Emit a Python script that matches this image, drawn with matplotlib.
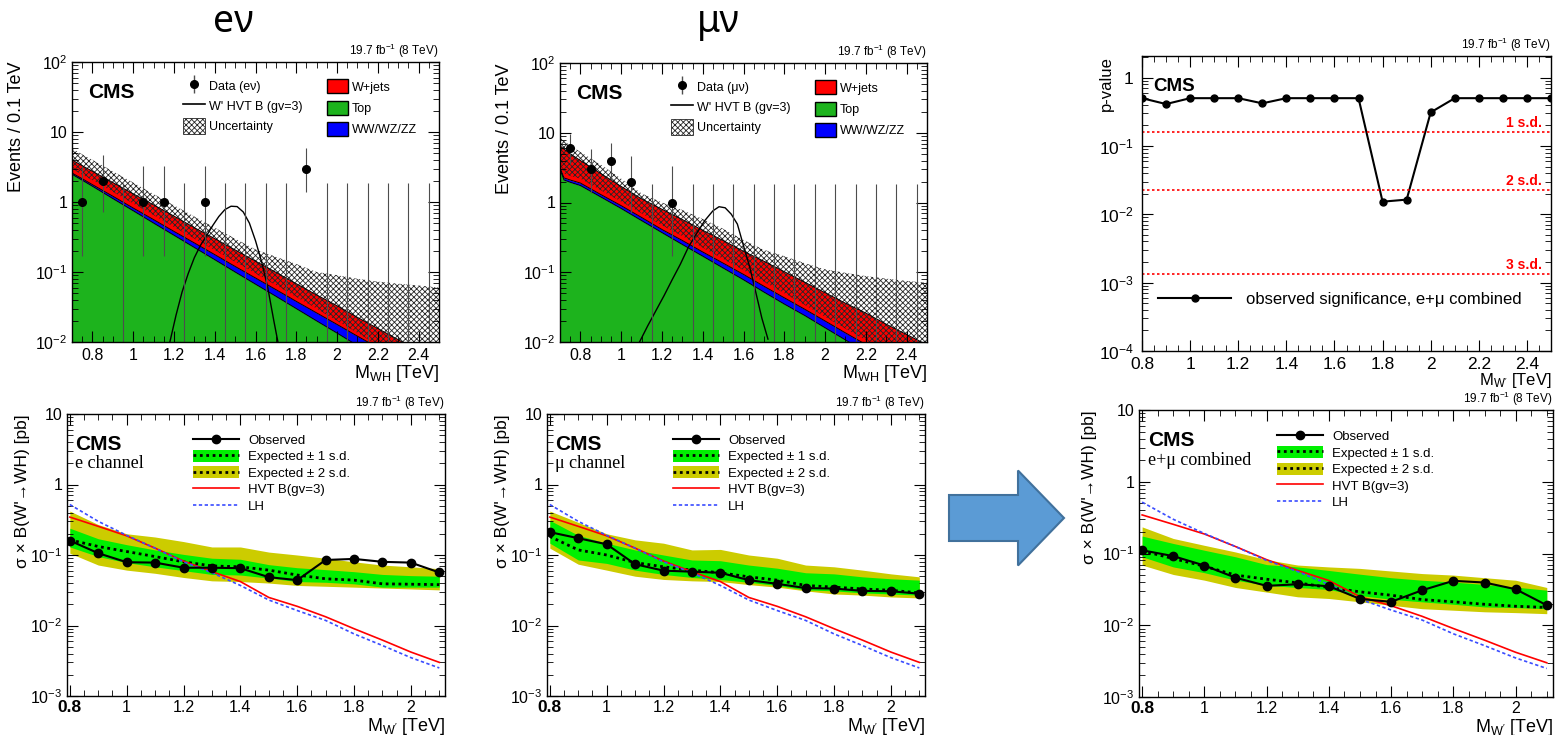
import numpy as np
import matplotlib
matplotlib.use("Agg")
import matplotlib.pyplot as plt
from matplotlib.patches import Patch, FancyArrow
from matplotlib.lines import Line2D
from matplotlib.ticker import FuncFormatter, LogLocator, MultipleLocator, NullFormatter

plt.rcParams["font.family"] = ["Liberation Sans", "DejaVu Sans"]
plt.rcParams["mathtext.fontset"] = "custom"
plt.rcParams["mathtext.rm"] = "Liberation Sans"
plt.rcParams["mathtext.it"] = "Liberation Sans:italic"
plt.rcParams["mathtext.bf"] = "Liberation Sans:bold"
plt.rcParams["hatch.linewidth"] = 0.6

# ── data: M_WH spectra (top row) ─────────────────────────────
mass_centers = [0.75, 0.85, 0.95, 1.05, 1.15, 1.25, 1.35, 1.45, 1.55,
                1.65, 1.75, 1.85, 1.95, 2.05, 2.15, 2.25, 2.35, 2.45]

e_counts = [1, 2, 0, 1, 1, 0, 1, 0, 0, 0, 0, 3, 0, 0, 0, 0, 0, 0]
e_err_lo = [0.17, 0.71, 0, 0.17, 0.17, 0, 0.17, 0, 0, 0, 0, 1.37, 0, 0, 0, 0, 0, 0]
e_err_hi = [3.30, 4.64, 1.84, 3.30, 3.30, 1.84, 3.30, 1.84, 1.84,
            1.84, 1.84, 5.92, 1.84, 1.84, 1.84, 1.84, 1.84, 1.84]

mu_counts = [6, 3, 4, 2, 0, 1, 0, 0, 0, 0, 0, 0, 0, 0, 0, 0, 0, 0]
mu_err_lo = [3.62, 1.37, 2.09, 0.71, 0, 0.17, 0, 0, 0, 0, 0, 0, 0, 0, 0, 0, 0, 0]
mu_err_hi = [9.58, 5.92, 7.16, 4.64, 1.84, 3.30, 1.84, 1.84, 1.84,
             1.84, 1.84, 1.84, 1.84, 1.84, 1.84, 1.84, 1.84, 1.84]

bkg_x = [0.70, 0.72, 0.75, 0.80, 0.90, 1.00, 1.10, 1.20, 1.30, 1.40, 1.50,
         1.60, 1.70, 1.80, 1.90, 2.00, 2.10, 2.20, 2.30, 2.40, 2.50]

# stacked tops: Top, Top+VV, Top+VV+W+jets, and uncertainty band edges
e_top_sum = [2.5, 2.3, 2.05, 1.68, 1.12, 0.75, 0.50, 0.335, 0.224, 0.15, 0.10,
             0.067, 0.045, 0.030, 0.020, 0.0134, 0.0089, 0.006, 0.004, 0.0027, 0.0018]
e_vv_sum = [2.6, 2.4, 2.15, 1.77, 1.21, 0.82, 0.56, 0.38, 0.26, 0.177, 0.12,
            0.082, 0.056, 0.038, 0.026, 0.0178, 0.0121, 0.0083, 0.0057, 0.0039, 0.0026]
e_wjets_sum = [4.0, 3.7, 3.3, 2.75, 1.90, 1.31, 0.91, 0.63, 0.43, 0.30, 0.207,
               0.143, 0.099, 0.068, 0.047, 0.033, 0.0225, 0.0156, 0.0108, 0.0074, 0.0051]
e_unc_hi = [5.8, 5.4, 4.8, 4.0, 2.75, 1.9, 1.3, 0.9, 0.62, 0.43, 0.30,
            0.21, 0.165, 0.13, 0.10, 0.09, 0.08, 0.073, 0.068, 0.064, 0.06]
e_unc_lo = [3.0, 2.75, 2.45, 2.05, 1.4, 0.95, 0.65, 0.44, 0.30, 0.205, 0.14,
            0.095, 0.065, 0.044, 0.03, 0.02, 0.0135, 0.009, 0.006, 0.004, 0.0027]

mu_top_sum = [3.0, 2.1, 1.95, 1.75, 1.2, 0.82, 0.55, 0.37, 0.25, 0.17, 0.115,
              0.078, 0.052, 0.035, 0.024, 0.016, 0.0107, 0.0072, 0.0049, 0.0033, 0.0022]
mu_vv_sum = [3.15, 2.25, 2.1, 1.9, 1.3, 0.9, 0.61, 0.41, 0.285, 0.195, 0.135,
             0.093, 0.063, 0.043, 0.0295, 0.02, 0.0135, 0.0092, 0.0063, 0.0043, 0.0029]
mu_wjets_sum = [6.5, 5.8, 5.0, 4.0, 2.6, 1.7, 1.13, 0.80, 0.57, 0.40, 0.285,
                0.20, 0.144, 0.102, 0.072, 0.051, 0.036, 0.026, 0.018, 0.0128, 0.0091]
mu_unc_hi = [8.5, 7.6, 6.6, 5.3, 3.5, 2.2, 1.35, 1.0, 0.78, 0.58, 0.42,
             0.29, 0.21, 0.17, 0.135, 0.11, 0.098, 0.088, 0.081, 0.075, 0.071]
mu_unc_lo = [3.6, 2.6, 2.4, 2.2, 1.5, 1.03, 0.7, 0.47, 0.33, 0.225, 0.155,
             0.107, 0.073, 0.05, 0.034, 0.023, 0.0155, 0.0106, 0.0072, 0.005, 0.0033]

# W' HVT B (gv=3) signal shape
e_sig_x = [1.18, 1.21, 1.24, 1.27, 1.30, 1.33, 1.36, 1.39, 1.42, 1.45,
           1.48, 1.51, 1.54, 1.57, 1.60, 1.63, 1.66, 1.69, 1.71]
e_sig_y = [0.010, 0.024, 0.052, 0.095, 0.16, 0.24, 0.33, 0.46, 0.62, 0.78,
           0.87, 0.86, 0.72, 0.50, 0.28, 0.14, 0.06, 0.02, 0.01]
mu_sig_x = [1.09, 1.13, 1.17, 1.21, 1.25, 1.29, 1.33, 1.37, 1.41, 1.45,
            1.48, 1.51, 1.54, 1.57, 1.60, 1.63, 1.66, 1.69, 1.72]
mu_sig_y = [0.010, 0.017, 0.028, 0.046, 0.078, 0.13, 0.23, 0.36, 0.55, 0.76,
            0.87, 0.84, 0.68, 0.49, 0.24, 0.12, 0.052, 0.022, 0.011]

# ── data: p-value (top right) ────────────────────────────────
p_mass = [0.8, 0.9, 1.0, 1.1, 1.2, 1.3, 1.4, 1.5, 1.6,
          1.7, 1.8, 1.9, 2.0, 2.1, 2.2, 2.3, 2.4, 2.5]
p_values = [0.5, 0.41, 0.5, 0.5, 0.5, 0.42, 0.5, 0.5, 0.5,
            0.5, 0.0153, 0.0164, 0.31, 0.5, 0.5, 0.5, 0.5, 0.5]
sd_pvalues = [0.159, 0.0228, 0.00135]
sd_labels = ["1 s.d.", "2 s.d.", "3 s.d."]

# ── data: limits (bottom row) ────────────────────────────────
lim_mass = [0.8, 0.9, 1.0, 1.1, 1.2, 1.3, 1.4, 1.5, 1.6, 1.7, 1.8, 1.9, 2.0, 2.1]

hvt_xs = [0.345, 0.255, 0.187, 0.125, 0.082, 0.058, 0.042, 0.025, 0.0187,
          0.0133, 0.0090, 0.0062, 0.0042, 0.0030]
lh_xs = [0.52, 0.30, 0.19, 0.125, 0.08, 0.056, 0.037, 0.023, 0.0163,
         0.0118, 0.0076, 0.0052, 0.0035, 0.0025]

e_obs = [0.160, 0.106, 0.079, 0.078, 0.066, 0.066, 0.065, 0.0485, 0.044,
         0.085, 0.088, 0.080, 0.078, 0.0565]
e_exp = [0.164, 0.132, 0.112, 0.095, 0.080, 0.070, 0.068, 0.061, 0.052,
         0.046, 0.044, 0.039, 0.0385, 0.038]
e_1s_hi = [0.24, 0.17, 0.14, 0.118, 0.102, 0.09, 0.087, 0.073, 0.066,
           0.062, 0.058, 0.053, 0.051, 0.05]
e_1s_lo = [0.13, 0.095, 0.078, 0.068, 0.06, 0.053, 0.052, 0.047, 0.042,
           0.041, 0.039, 0.035, 0.035, 0.035]
e_2s_hi = [0.42, 0.27, 0.20, 0.18, 0.155, 0.13, 0.13, 0.11, 0.10,
           0.09, 0.08, 0.072, 0.068, 0.064]
e_2s_lo = [0.106, 0.072, 0.061, 0.055, 0.048, 0.043, 0.042, 0.040, 0.037,
           0.036, 0.035, 0.034, 0.033, 0.032]

mu_obs = [0.211, 0.173, 0.142, 0.074, 0.060, 0.058, 0.056, 0.044, 0.039,
          0.034, 0.0334, 0.031, 0.0306, 0.0283]
mu_exp = [0.183, 0.118, 0.10, 0.078, 0.068, 0.061, 0.056, 0.049, 0.044,
          0.037, 0.035, 0.033, 0.0316, 0.029]
mu_1s_hi = [0.31, 0.19, 0.147, 0.118, 0.10, 0.085, 0.083, 0.072, 0.065,
            0.056, 0.054, 0.049, 0.046, 0.044]
mu_1s_lo = [0.147, 0.085, 0.076, 0.061, 0.053, 0.048, 0.045, 0.041, 0.037,
            0.032, 0.031, 0.029, 0.028, 0.027]
mu_2s_hi = [0.42, 0.29, 0.20, 0.164, 0.147, 0.118, 0.12, 0.10, 0.09,
            0.072, 0.068, 0.061, 0.054, 0.049]
mu_2s_lo = [0.125, 0.074, 0.061, 0.05, 0.045, 0.043, 0.042, 0.038, 0.035,
            0.031, 0.028, 0.027, 0.0254, 0.0246]

comb_obs = [0.111, 0.092, 0.068, 0.046, 0.0354, 0.0373, 0.035, 0.0233, 0.0212,
            0.0308, 0.0416, 0.0394, 0.0318, 0.019]
comb_exp = [0.109, 0.085, 0.0665, 0.05, 0.0438, 0.039, 0.0336, 0.0292, 0.0262,
            0.0228, 0.0212, 0.0196, 0.0184, 0.0177]
comb_1s_hi = [0.175, 0.138, 0.111, 0.09, 0.070, 0.065, 0.058, 0.0515, 0.046,
              0.0424, 0.040, 0.037, 0.034, 0.0308]
comb_1s_lo = [0.09, 0.065, 0.054, 0.0425, 0.036, 0.0336, 0.0315, 0.026, 0.023,
              0.0212, 0.0196, 0.018, 0.0176, 0.017]
comb_2s_hi = [0.235, 0.162, 0.13, 0.105, 0.082, 0.069, 0.065, 0.062, 0.057,
              0.0525, 0.05, 0.046, 0.0424, 0.0336]
comb_2s_lo = [0.069, 0.051, 0.0425, 0.0336, 0.029, 0.0249, 0.0236, 0.0212, 0.019,
              0.017, 0.0162, 0.0154, 0.015, 0.0145]

lim_ticks = [0.8, 1.0, 1.2, 1.4, 1.6, 1.8, 2.0]
lim_tick_labels = ["0.8", "1", "1.2", "1.4", "1.6", "1.8", "2"]

# colours
C_TOP = "#1db31d"
C_VV = "#0000ff"
C_WJ = "#ff0000"
C_1S = "#00f000"
C_2S = "#cccc00"
LUMI = r"19.7 fb$^{-1}$ (8 TeV)"


def log_label(v, pos):
    e = int(round(np.log10(v)))
    if e == 0:
        return "1"
    if e == 1:
        return "10"
    return r"$10^{%d}$" % e


def root_axes(ax, xmajor, xminor, labelsize, xpad=4.5):
    ax.set_yscale("log")
    ax.xaxis.set_major_locator(MultipleLocator(xmajor))
    ax.xaxis.set_minor_locator(MultipleLocator(xminor))
    ax.xaxis.set_major_formatter(FuncFormatter(lambda v, p: f"{round(v, 2):g}"))
    ax.yaxis.set_major_locator(LogLocator(base=10, numticks=20))
    ax.yaxis.set_minor_locator(LogLocator(base=10, subs=np.arange(2, 10), numticks=20))
    ax.yaxis.set_minor_formatter(NullFormatter())
    ax.yaxis.set_major_formatter(FuncFormatter(log_label))
    ax.tick_params(which="both", direction="in", top=True, right=True,
                   labelsize=labelsize)
    ax.tick_params(which="major", length=8, width=0.8)
    ax.tick_params(which="minor", length=4, width=0.6)
    ax.tick_params(axis="x", pad=xpad)
    for s in ax.spines.values():
        s.set_linewidth(1.0)
    ax.text(1.0, 1.006, LUMI, transform=ax.transAxes, ha="right", va="bottom",
            fontsize=8.5)


# ── top row: spectra ─────────────────────────────────────────
def draw_spectrum(ax, counts, err_lo, err_hi, top_sum, vv_sum, wj_sum,
                  unc_lo, unc_hi, sig_x, sig_y, data_label):
    root_axes(ax, 0.2, 0.05, 11.5)
    ax.set_xlim(0.7, 2.5)
    ax.set_ylim(1e-2, 1e2)
    floor = 1e-4
    ax.fill_between(bkg_x, floor, top_sum, color=C_TOP, lw=0)
    ax.fill_between(bkg_x, top_sum, vv_sum, color=C_VV, lw=0)
    ax.fill_between(bkg_x, vv_sum, wj_sum, color=C_WJ, lw=0)
    for y in (top_sum, vv_sum, wj_sum):
        ax.plot(bkg_x, y, color="black", lw=0.7)
    ax.fill_between(bkg_x, unc_lo, unc_hi, facecolor="none", edgecolor="0.15",
                    hatch="xxxxxx", lw=0)
    ax.plot(sig_x, sig_y, color="black", lw=1.0)

    counts = np.array(counts)
    lo = np.array(err_lo, dtype=float)
    lo_draw = np.where(lo > 0, lo, ax.get_ylim()[0])
    ax.vlines(mass_centers, lo_draw, err_hi, color="0.3", lw=0.8)
    has = counts > 0
    ax.plot(np.array(mass_centers)[has], counts[has], "o", color="black", ms=5.5)

    ax.text(0.044, 0.925, "CMS", transform=ax.transAxes, ha="left", va="top",
            fontsize=15, fontweight="bold")

    data_h = (Line2D([], [], marker="|", ms=13, color="0.3", ls="none"),
              Line2D([], [], marker="o", ms=5.5, color="black", ls="none"))
    sig_h = Line2D([], [], color="black", lw=1.2)
    unc_h = Patch(facecolor="white", edgecolor="0.15", hatch="xxxxxx", lw=0.6)
    leg1 = ax.legend([data_h, sig_h, unc_h],
                     [data_label, "W' HVT B (gv=3)", "Uncertainty"],
                     loc="upper left", bbox_to_anchor=(0.302, 0.944),
                     frameon=False, fontsize=9, handlelength=1.76,
                     handleheight=1.6, labelspacing=0.32, handletextpad=0.35,
                     borderpad=0, borderaxespad=0)
    ax.add_artist(leg1)
    bkg_h = [Patch(facecolor=c, edgecolor="black", lw=1.0) for c in (C_WJ, C_TOP, C_VV)]
    ax.legend(bkg_h, ["W+jets", "Top", "WW/WZ/ZZ"], loc="upper left",
              bbox_to_anchor=(0.695, 0.938), frameon=False, fontsize=9,
              handlelength=1.7, handleheight=1.36, labelspacing=0.57,
              handletextpad=0.25, borderpad=0, borderaxespad=0)

    ax.text(-0.15, 1.0, "Events / 0.1 TeV", transform=ax.transAxes, rotation=90,
            ha="center", va="top", fontsize=13)
    ax.text(1.0, -0.075, r"M$_{\mathrm{WH}}$ [TeV]", transform=ax.transAxes,
            ha="right", va="top", fontsize=13)


# ── bottom row: limits ───────────────────────────────────────
def draw_limit(ax, obs, exp, s1_lo, s1_hi, s2_lo, s2_hi, channel_label):
    root_axes(ax, 0.2, 0.05, 11.5, xpad=3)
    ax.set_xlim(0.79, 2.12)
    ax.set_ylim(1e-3, 10)
    ax.set_xticks(lim_ticks, labels=lim_tick_labels)
    ax.get_xticklabels()[0].set_fontweight("bold")
    ax.get_xticklabels()[0].set_fontsize(12.5)

    ax.fill_between(lim_mass, s2_lo, s2_hi, color=C_2S, lw=0)
    ax.fill_between(lim_mass, s1_lo, s1_hi, color=C_1S, lw=0)
    ax.plot(lim_mass, exp, color="black", lw=2.0, ls=(0, (1, 1.3)))
    ax.plot(lim_mass, hvt_xs, color="red", lw=1.2)
    ax.plot(lim_mass, lh_xs, color="#3a4cff", lw=1.2, ls=(0, (2, 1.5)))
    ax.plot(lim_mass, obs, color="black", lw=1.5, marker="o", ms=6)

    ax.text(0.021, 0.926, "CMS", transform=ax.transAxes, ha="left", va="top",
            fontsize=15, fontweight="bold")
    ax.text(0.021, 0.855, channel_label, transform=ax.transAxes, ha="left",
            va="top", fontsize=13, family=["Liberation Serif", "DejaVu Serif"])

    dot = Line2D([], [], color="black", lw=2.0, ls=(0, (1, 1.3)))
    handles = [Line2D([], [], color="black", lw=1.5, marker="o", ms=6),
               (Patch(facecolor=C_1S, lw=0), dot),
               (Patch(facecolor=C_2S, lw=0), dot),
               Line2D([], [], color="red", lw=1.2),
               Line2D([], [], color="#3a4cff", lw=1.2, ls=(0, (2, 1.5)))]
    labels = ["Observed", "Expected ± 1 s.d.", "Expected ± 2 s.d.",
              "HVT B(gv=3)", "LH"]
    ax.legend(handles, labels, loc="upper left", bbox_to_anchor=(0.333, 0.931),
              frameon=False, fontsize=9.5, handlelength=3.5, handleheight=1.0,
              labelspacing=0.23, handletextpad=0.68, borderpad=0, borderaxespad=0)

    ax.text(-0.119, 1.0, r"σ × B(W'→WH) [pb]", transform=ax.transAxes,
            rotation=90, ha="center", va="top", fontsize=12.5)
    ax.text(1.0, -0.07, r"M$_{\mathrm{W'}}$ [TeV]", transform=ax.transAxes,
            ha="right", va="top", fontsize=13)


fig = plt.figure(figsize=(15.6, 7.35), dpi=100)
W, H = 1560.0, 735.0


def place(l, r, t, b):
    return fig.add_axes([l / W, (H - b) / H, (r - l) / W, (b - t) / H])


ax_e = place(72, 439, 62, 342)
ax_mu = place(560, 927, 63, 342)
ax_p = place(1142, 1551, 56, 351)
ax_le = place(67, 445, 414, 696)
ax_lmu = place(547, 925, 414, 696)
ax_lc = place(1139, 1553, 410, 697)

draw_spectrum(ax_e, e_counts, e_err_lo, e_err_hi, e_top_sum, e_vv_sum,
              e_wjets_sum, e_unc_lo, e_unc_hi, e_sig_x, e_sig_y, "Data (eν)")
draw_spectrum(ax_mu, mu_counts, mu_err_lo, mu_err_hi, mu_top_sum, mu_vv_sum,
              mu_wjets_sum, mu_unc_lo, mu_unc_hi, mu_sig_x, mu_sig_y, "Data (μν)")

# p-value panel
root_axes(ax_p, 0.2, 0.05, 12.5)
ax_p.tick_params(axis="y", pad=6)
ax_p.set_xlim(0.8, 2.5)
ax_p.set_ylim(1e-4, 2.07)
ax_p.plot(p_mass, p_values, color="black", lw=1.5, marker="o", ms=5)
for p, lab in zip(sd_pvalues, sd_labels):
    ax_p.axhline(p, color="red", lw=1.2, ls=(0, (1.5, 1.5)))
    ax_p.annotate(lab, xy=(0.978, p), xycoords=("axes fraction", "data"),
                  xytext=(0, 1.5), textcoords="offset points", ha="right",
                  va="bottom", color="red", fontweight="bold", fontsize=10)
ax_p.legend([Line2D([], [], color="black", lw=1.5, marker="o", ms=5)],
            ["observed significance, e+μ combined"], loc="center left",
            bbox_to_anchor=(0.039, 0.176), frameon=False, fontsize=12,
            handlelength=4.4, handletextpad=0.9, borderpad=0, borderaxespad=0)
ax_p.text(0.027, 0.925, "CMS", transform=ax_p.transAxes, ha="left", va="top",
          fontsize=13.5, fontweight="bold")
ax_p.text(-0.088, 1.0, "p-value", transform=ax_p.transAxes, rotation=90,
          ha="center", va="top", fontsize=12)
ax_p.text(1.0, -0.068, r"M$_{\mathrm{W'}}$ [TeV]", transform=ax_p.transAxes,
          ha="right", va="top", fontsize=12)

draw_limit(ax_le, e_obs, e_exp, e_1s_lo, e_1s_hi, e_2s_lo, e_2s_hi, "e channel")
draw_limit(ax_lmu, mu_obs, mu_exp, mu_1s_lo, mu_1s_hi, mu_2s_lo, mu_2s_hi, "μ channel")
draw_limit(ax_lc, comb_obs, comb_exp, comb_1s_lo, comb_1s_hi, comb_2s_lo,
           comb_2s_hi, "e+μ combined")

# column titles
fig.text(233 / W, 1 - 22 / H, "eν", ha="center", va="center", fontsize=27,
         family=["Noto Sans", "DejaVu Sans"])
fig.text(718 / W, 1 - 22 / H, "μν", ha="center", va="center", fontsize=27,
         family=["Noto Sans", "DejaVu Sans"])

# block arrow between the columns
fig.add_artist(FancyArrow(949 / W, 1 - 518 / H, 115 / W, 0, width=46 / H,
                          head_width=95 / H, head_length=46 / W,
                          length_includes_head=True, transform=fig.transFigure,
                          facecolor="#5b9bd5", edgecolor="#41719c", lw=1.5))

fig.savefig("out.png", dpi=100, facecolor="white")
